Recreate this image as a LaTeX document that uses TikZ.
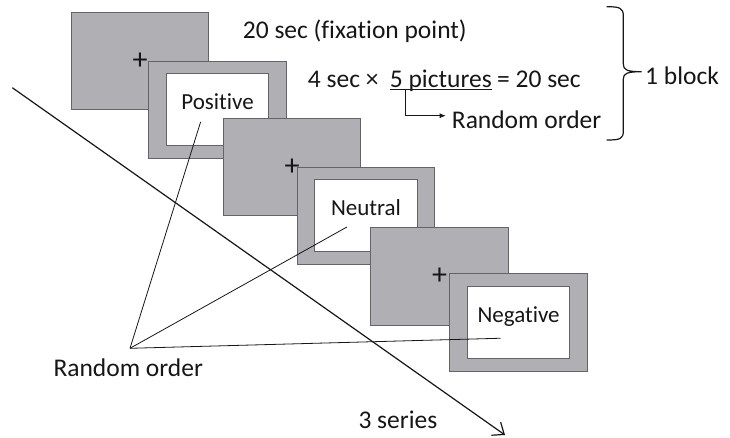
\documentclass[tikz,border=0pt]{standalone}
\usepackage{fontspec}
\setmainfont{Carlito}[Ligatures={NoCommon,NoRequired,NoContextual}]
\usepackage{tikz}
\usetikzlibrary{arrows.meta,positioning}
\definecolor{boxgray}{RGB}{176,176,180}
\definecolor{edgegray}{RGB}{100,100,104}
\definecolor{inkgray}{RGB}{22,22,22}
\tikzset{
  fix box/.style={
    fill=boxgray,
    draw=edgegray,
    line width=1pt,
    minimum width=137.6pt,
    minimum height=97.5pt,
    inner sep=0pt,
    anchor=north west,
    font=\fontsize{30}{32}\selectfont,
  },
  frame box/.style={
    fix box,
  },
  picture area/.style={
    fill=white,
    draw=edgegray,
    line width=1pt,
    minimum width=102.3pt,
    minimum height=72pt,
    inner sep=0pt,
    text height=0pt,
    text depth=0pt,
    font=\fontsize{23}{26}\selectfont,
  },
  caption/.style={
    anchor=base west,
    inner sep=0pt,
    font=\fontsize{25.5}{30}\selectfont,
  },
  thin line/.style={
    line width=0.8pt,
  }
}

\begin{document}
\begin{tikzpicture}[x=1pt, y=-1pt, color=inkgray, text=inkgray]
  \useasboundingbox (0,0) rectangle (730,438);

  \node [fix box] (fix1) at (70.7,11.7) {+};
  \node [frame box] (pic1) at (148.3,60.7) {};
  \node [picture area] (img1) at (pic1.center) {Positive};
  \node [fix box] (fix2) at (222.7,117.7) {+};
  \node [frame box] (pic2) at (296.7,166.7) {};
  \node [picture area] (img2) at (pic2.center) {Neutral};
  \node [fix box] (fix3) at (370.3,227.3) {+};
  \node [frame box] (pic3) at (449.3,273) {};
  \node [picture area] (img3) at (pic3.center) {Negative};

  \node [caption] (fixtext) at (242.7,38.3) {20 sec (fixation point)};
  \node [caption] (dura) at (307.7,87.3) {4 sec ×};
  \node [caption, base right=11pt of dura] (five) {5 pictures};
  \node [caption, base right=5pt of five] (total) {= 20 sec};
  \node [caption] (order1) at (451.7,128.3) {Random order};
  \node [caption] (block) at (645,85) {1 block};
  \node [caption] (order2) at (53.3,376.7) {Random order};
  \node [caption] (series) at (358.3,428.3) {3 series};

  \draw [thin line] ([yshift=-2pt]five.base west) -- ([yshift=-2pt]five.base east);
  \draw [thin line, -{Latex[length=6pt,width=5pt]}]
    ([xshift=16pt,yshift=-2pt]five.base west) |- ([xshift=-6pt,yshift=12.6pt]order1.base west);

  % brace round the block
  \draw [line width=1.2pt] (606.7,6.7) .. controls (620,6.7) and (623.3,8) .. (623.3,16)
    -- (623.3,64) .. controls (623.3,70) and (627,71.7) .. (641.7,71.7)
    .. controls (627,71.7) and (623.3,73.4) .. (623.3,79)
    -- (623.3,131) .. controls (623.3,139) and (620,140) .. (606.7,140);

  \coordinate (apex) at (130,348.3);
  \draw [thin line] (apex) -- ([shift={(-17,12)}]img1.center);
  \draw [thin line] (apex) -- ([shift={(-19,11)}]img2.center);
  \draw [thin line] (apex) -- ([shift={(-18,16)}]img3.center);

  \coordinate (series start) at (12.3,87.7);
  \coordinate (series end) at (505,435);
  \draw [line width=1.2pt, -{Straight Barb[length=10pt,width=16pt]}] (series start) -- (series end);
\end{tikzpicture}
\end{document}
